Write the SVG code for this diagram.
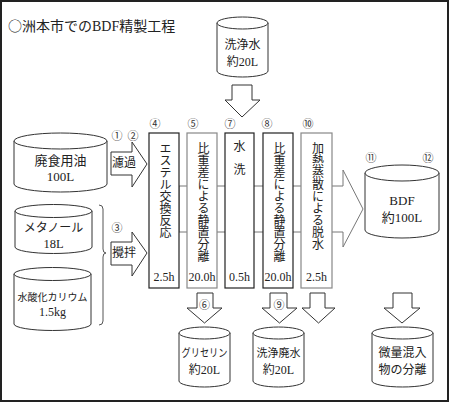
<svg xmlns="http://www.w3.org/2000/svg" width="450" height="403" viewBox="0 0 450 403">
<defs>
<style>
text{font-family:"Liberation Serif","Noto Sans CJK JP",serif;fill:#222;}
.cyl{fill:#fff;stroke:#333;stroke-width:1;}
.arr{fill:#fff;stroke:#333;stroke-width:1;stroke-linejoin:miter;}
.boxd{fill:#fff;stroke:#222;stroke-width:1.2;}
.boxg{fill:#fff;stroke:#888;stroke-width:1.2;}
.lbl{text-anchor:middle;dominant-baseline:central;}
.num{font-family:"Noto Sans CJK JP",sans-serif;font-size:11px;text-anchor:middle;dominant-baseline:central;fill:#333;}
.vt{font-size:12px;writing-mode:vertical-rl;dominant-baseline:central;}
.tm{font-size:12px;text-anchor:middle;dominant-baseline:central;}
</style>
</defs>
<rect x="0" y="0" width="450" height="403" fill="#fff"/>
<rect x="1" y="1" width="447" height="400" fill="none" stroke="#222" stroke-width="2"/>
<text x="8" y="31" font-size="14"><tspan font-family="Noto Sans CJK JP, sans-serif">○</tspan>洲本市でのBDF精製工程</text>

<g id="connectors">
<polygon class="arr" points="111,152 132,152 132,142 147,164 132,187 132,175 111,175"/>
<polygon class="arr" points="111,242 132,242 132,232 147,253 132,276 132,265 111,265"/>
<path d="M99,205 Q103,205 103,209 V249 Q103,253 106,253 Q103,253 103,257 V321 Q103,325 99,325" fill="none" stroke="#555" stroke-width="1"/>
<polygon class="arr" points="232,85 252,85 252,100 260,100 242,117 225,100 232,100"/>
<polygon points="179,186 343,186 343,170 363,209 343,247 343,232 179,232" fill="#fff" stroke="#777" stroke-width="1"/>
<polygon class="arr" points="197,293 213,293 213,308 222,308 204.5,323 187,308 197,308"/>
<polygon class="arr" points="270,293 287,293 287,308 297,308 279.5,323 262,308 270,308"/>
<polygon class="arr" points="310,293 325,293 325,308 335,308 318.5,323 302,308 310,308"/>
<polygon class="arr" points="393,293 412,293 412,308 420,308 402,323 384,308 393,308"/>
<text class="lbl" x="124" y="163" font-size="12">濾過</text>
<text class="lbl" x="124" y="253" font-size="12">攪拌</text>
<text class="num" x="204.5" y="304">⑥</text>
<text class="num" x="279" y="304">⑨</text>
</g>

<g id="n-oil">
<path class="cyl" d="M14,141 V184 A46.5,8 0 0 0 107,184 V141"/>
<ellipse class="cyl" cx="60.5" cy="141" rx="46.5" ry="8"/>
<text class="lbl" x="60.5" y="160" font-size="13">廃食用油</text>
<text class="lbl" x="60.5" y="176" font-size="13">100L</text>
</g>

<g id="n-methanol">
<path class="cyl" d="M15,211 V247 A38.5,6.5 0 0 0 92,247 V211"/>
<ellipse class="cyl" cx="53.5" cy="211" rx="38.5" ry="6.5"/>
<text class="lbl" x="53.5" y="228" font-size="12">メタノール</text>
<text class="lbl" x="53.5" y="244" font-size="12.5">18L</text>
</g>

<g id="n-koh">
<path class="cyl" d="M14,274 V324 A38.5,6.5 0 0 0 91,324 V274"/>
<ellipse class="cyl" cx="52.5" cy="274" rx="38.5" ry="6.5"/>
<text class="lbl" x="52.5" y="297" font-size="10">水酸化カリウム</text>
<text class="lbl" x="52.5" y="312" font-size="12">1.5kg</text>
</g>

<g id="n-water">
<path class="cyl" d="M217,23 V71 A25.5,6 0 0 0 268,71 V23"/>
<ellipse class="cyl" cx="242.5" cy="23" rx="25.5" ry="6"/>
<text class="lbl" x="242.5" y="45" font-size="12">洗浄水</text>
<text class="lbl" x="242.5" y="62" font-size="12">約20L</text>
</g>

<g id="n-labels">
<text class="num" x="117" y="135">①</text>
<text class="num" x="133" y="135">②</text>
<text class="num" x="117" y="227">③</text>
</g>

<g id="n-step4">
<rect class="boxd" x="149" y="133" width="30" height="155"/>
<text class="num" x="155" y="123">④</text>
<text class="vt" x="164" y="142">エステル交換反応</text>
<text class="tm" x="164" y="277">2.5h</text>
</g>

<g id="n-step5">
<rect class="boxg" x="187" y="133" width="30" height="155"/>
<text class="num" x="193" y="123">⑤</text>
<text class="vt" x="202" y="142">比重差による静置分離</text>
<text class="tm" x="202" y="277">20.0h</text>
</g>

<g id="n-step7">
<rect class="boxd" x="225" y="133" width="29" height="155"/>
<text class="num" x="230" y="123">⑦</text>
<text class="lbl" x="239.5" y="147" font-size="12">水</text>
<text class="lbl" x="239.5" y="170" font-size="12">洗</text>
<text class="tm" x="239.5" y="277">0.5h</text>
</g>

<g id="n-step8">
<rect class="boxd" x="263" y="133" width="30" height="155"/>
<text class="num" x="267" y="123">⑧</text>
<text class="vt" x="278" y="142">比重差による静置分離</text>
<text class="tm" x="278" y="277">20.0h</text>
</g>

<g id="n-step10">
<rect class="boxg" x="301" y="133" width="31" height="155"/>
<text class="num" x="308" y="123">⑩</text>
<text class="vt" x="316.5" y="142">加熱蒸散による脱水</text>
<text class="tm" x="316.5" y="277">2.5h</text>
</g>

<g id="n-bdf">
<path class="cyl" d="M365,173 V230 A37,8 0 0 0 439,230 V173"/>
<ellipse class="cyl" cx="402" cy="173" rx="37" ry="8"/>
<text class="num" x="371" y="157">⑪</text>
<text class="num" x="428" y="157">⑫</text>
<text class="lbl" x="402" y="200" font-size="13">BDF</text>
<text class="lbl" x="402" y="217" font-size="13">約100L</text>
</g>

<g id="n-glycerin">
<path class="cyl" d="M179,333 V381 A25.5,6 0 0 0 230,381 V333"/>
<ellipse class="cyl" cx="204.5" cy="333" rx="25.5" ry="6"/>
<text class="lbl" x="204.5" y="353" font-size="11" textLength="46" lengthAdjust="spacingAndGlyphs">グリセリン</text>
<text class="lbl" x="204.5" y="370" font-size="12">約20L</text>
</g>

<g id="n-wastewater">
<path class="cyl" d="M253,333 V381 A25.5,6 0 0 0 304,381 V333"/>
<ellipse class="cyl" cx="278.5" cy="333" rx="25.5" ry="6"/>
<text class="lbl" x="278.5" y="353" font-size="11">洗浄廃水</text>
<text class="lbl" x="278.5" y="370" font-size="12">約20L</text>
</g>

<g id="n-trace">
<path class="cyl" d="M372,333 V381 A30.5,6 0 0 0 433,381 V333"/>
<ellipse class="cyl" cx="402.5" cy="333" rx="30.5" ry="6"/>
<text class="lbl" x="402.5" y="353" font-size="12">微量混入</text>
<text class="lbl" x="402.5" y="370" font-size="12">物の分離</text>
</g>
</svg>
